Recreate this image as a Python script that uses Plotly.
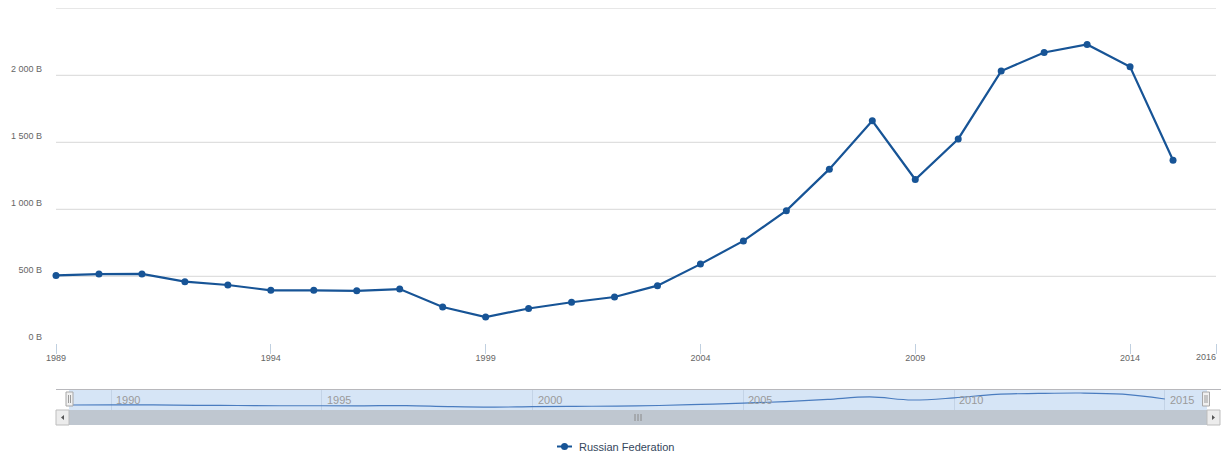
import plotly.graph_objects as go

# GDP, current US$, in billions
years = list(range(1989, 2016))
gdp_billions = [506.5, 516.8, 518.0, 460.2, 435.1, 395.1, 395.5, 391.7, 404.9,
                271.0, 195.9, 259.7, 306.6, 345.5, 430.3, 591.0, 764.0, 989.9,
                1299.7, 1660.8, 1222.6, 1524.9, 2031.8, 2170.1, 2230.6, 2063.7,
                1365.9]
series_name = "Russian Federation"

x_ticks = [1989, 1994, 1999, 2004, 2009, 2014, 2016]
# the end label is drawn separately, right-aligned to its tick
x_tick_text = ["1989", "1994", "1999", "2004", "2009", "2014", ""]
x_end_label = "2016"
y_ticks = [0, 500, 1000, 1500, 2000]
y_tick_text = ["0 B", "500 B", "1 000 B", "1 500 B", "2 000 B"]
grid_values = [500, 1000, 1500, 2000, 2500]
nav_ticks = [1990, 1995, 2000, 2005, 2010, 2015]

W, H = 1232, 458
LINE = "#175496"
FONT = "Liberation Sans, Arial, sans-serif"


def px(x):
    return x / W


def py(y):
    return 1 - y / H


fig = go.Figure()

# main series
fig.add_trace(go.Scatter(
    x=years, y=gdp_billions, mode="lines+markers", name=series_name,
    line=dict(color=LINE, width=2.2), marker=dict(color=LINE, size=7),
    cliponaxis=False, showlegend=False, hoverinfo="skip",
    xaxis="x", yaxis="y"))

# navigator series
fig.add_trace(go.Scatter(
    x=years, y=gdp_billions, mode="lines", line=dict(color="#4a7cbf", width=1.2, shape="spline"),
    showlegend=False, hoverinfo="skip", xaxis="x2", yaxis="y2"))

shapes = []
# horizontal grid lines of the main plot
for v in grid_values:
    shapes.append(dict(type="line", xref="x domain", yref="y", x0=0, x1=1, y0=v, y1=v,
                       line=dict(color="#d8d8d8", width=1), layer="below"))

# navigator background
shapes.append(dict(type="rect", xref="x2 domain", yref="y2 domain", x0=0, x1=1, y0=0, y1=1,
                   fillcolor="#d6e5f6", line=dict(width=0), layer="below"))
# navigator outline
shapes.append(dict(type="line", xref="paper", yref="paper", x0=px(56), x1=px(1221),
                   y0=py(389.5), y1=py(389.5), line=dict(color="#b8b8bc", width=1)))
# scrollbar track
shapes.append(dict(type="rect", xref="paper", yref="paper", x0=px(69), x1=px(1207),
                   y0=py(410), y1=py(425), fillcolor="#bfc7d0", line=dict(width=0)))
# scrollbar grip
for gx in (635, 638, 641):
    shapes.append(dict(type="line", xref="paper", yref="paper", x0=px(gx), x1=px(gx),
                       y0=py(414), y1=py(421), line=dict(color="#8a8a8a", width=1)))
# scrollbar buttons
for bx0, bx1 in ((56, 69), (1207, 1220)):
    shapes.append(dict(type="rect", xref="paper", yref="paper", x0=px(bx0), x1=px(bx1),
                       y0=py(410), y1=py(425), fillcolor="#ececec",
                       line=dict(color="#bdbdbd", width=1)))
# button arrows
shapes.append(dict(type="path", xref="paper", yref="paper",
                   path=f"M {px(61)} {py(417.5)} L {px(64)} {py(415)} L {px(64)} {py(420)} Z",
                   fillcolor="#555", line=dict(width=0)))
shapes.append(dict(type="path", xref="paper", yref="paper",
                   path=f"M {px(1215)} {py(417.5)} L {px(1212)} {py(415)} L {px(1212)} {py(420)} Z",
                   fillcolor="#555", line=dict(width=0)))
# navigator handles
for hx in (69.5, 1206):
    shapes.append(dict(type="rect", xref="paper", yref="paper", x0=px(hx - 3.5), x1=px(hx + 3.5),
                       y0=py(392), y1=py(406), fillcolor="#f0f0f0",
                       line=dict(color="#a8a8a8", width=1)))
    for lx in (hx - 1, hx + 1):
        shapes.append(dict(type="line", xref="paper", yref="paper", x0=px(lx), x1=px(lx),
                           y0=py(395), y1=py(403), line=dict(color="#9a9a9a", width=1)))

# legend symbol
shapes.append(dict(type="line", xref="paper", yref="paper", x0=px(557), x1=px(572),
                   y0=py(446.5), y1=py(446.5), line=dict(color=LINE, width=2)))
shapes.append(dict(type="circle", xref="paper", yref="paper", x0=px(561), x1=px(568),
                   y0=py(443), y1=py(450), fillcolor=LINE, line=dict(width=0)))

annotations = [dict(xref="paper", yref="paper", x=px(577), y=py(446.5), text=series_name,
                    showarrow=False, xanchor="left", yanchor="middle",
                    font=dict(family=FONT, size=11, color="#34465c"))]
# end label of the main x axis
annotations.append(dict(xref="x", yref="paper", x=x_ticks[-1], y=py(357), text=x_end_label,
                        showarrow=False, xanchor="right", yanchor="middle", xshift=2,
                        font=dict(family=FONT, size=9, color="#666")))
# navigator axis labels
for t in nav_ticks:
    annotations.append(dict(xref="x2", yref="paper", x=t, y=py(400), text=str(t),
                            showarrow=False, xanchor="left", yanchor="middle", xshift=3,
                            font=dict(family=FONT, size=11, color="#9a9a9a")))

fig.update_layout(
    width=W, height=H,
    margin=dict(l=0, r=0, t=0, b=0, autoexpand=False),
    paper_bgcolor="white", plot_bgcolor="rgba(0,0,0,0)",
    showlegend=False,
    xaxis=dict(domain=[px(56), px(1216)], range=[1989, 2016], tickvals=x_ticks,
               ticktext=x_tick_text,
               ticks="outside", ticklen=10, tickcolor="#c0d0e0", tickwidth=1,
               ticklabelstandoff=-4,
               showgrid=False, zeroline=False, showline=False, automargin=False,
               tickfont=dict(family=FONT, size=9, color="#666")),
    yaxis=dict(domain=[py(343.3), py(8.3)], range=[0, 2500], tickvals=y_ticks,
               ticktext=y_tick_text, ticks="", showgrid=False, zeroline=False,
               showline=False, ticklabelstandoff=13, ticklabelshift=-6, automargin=False,
               tickfont=dict(family=FONT, size=9, color="#666")),
    xaxis2=dict(domain=[px(69), px(1207)], range=[1989, 2016], anchor="y2",
                tickvals=nav_ticks, showticklabels=False, ticks="",
                showgrid=True, gridcolor="#c3d3e6", gridwidth=1, automargin=False,
                zeroline=False, showline=False),
    yaxis2=dict(domain=[py(410), py(390)], range=[-216, 2662], anchor="x2",
                showticklabels=False, showgrid=False, zeroline=False, ticks="",
                automargin=False),
    shapes=shapes, annotations=annotations,
)

fig.write_html("out.html")
